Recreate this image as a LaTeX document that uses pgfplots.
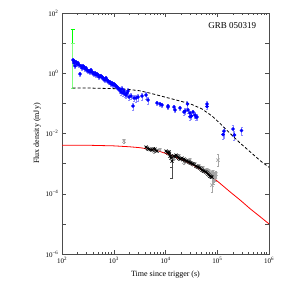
\documentclass[border=0pt]{standalone}
\usepackage{fontspec}
\setmainfont{Liberation Serif}
\usepackage{pgfplots}
\pgfplotsset{compat=1.18}
\usepackage{pgfplotstable}

\pgfplotstableread{
t f e
163.2 2.745 0.15
170.6 2.183 0.15
170.6 2.543 0.15
178.3 1.735 0.15
186.4 2.356 0.15
194.9 2.021 0.15
203.8 2.183 0.15
213.0 1.873 0.15
222.7 0.9406 0.15
232.8 1.735 0.15
243.4 1.488 0.15
254.5 1.735 0.15
266.1 1.607 0.15
278.2 1.379 0.15
290.9 1.488 0.15
304.1 1.277 0.15
317.9 1.183 0.15
332.4 1.183 0.15
347.5 1.096 0.15
363.4 1.277 0.15
380.0 1.096 0.15
397.2 1.015 0.15
415.3 0.9406 0.15
434.2 1.015 0.15
454.0 0.8713 0.15
474.7 0.9406 0.15
496.3 0.8713 0.15
518.8 0.7475 0.15
542.5 0.807 0.15
567.1 0.807 0.15
593.0 0.7475 0.15
620.0 0.6929 0.15
648.2 0.6417 0.15
677.6 0.5943 0.15
708.6 0.6929 0.15
740.8 0.5943 0.15
774.5 0.5506 0.15
809.6 0.5099 0.15
846.6 0.5099 0.15
885.1 0.4378 0.15
925.5 0.4724 0.15
967.2 0.4055 0.15
1011 0.4378 0.15
1057 0.4055 0.15
1105 0.3756 0.15
1156 0.3478 0.15
1208 0.3224 0.15
1263 0.2986 0.15
1321 0.2766 0.2
1381 0.2373 0.2
1443 0.2986 0.2
1510 0.2199 0.2
1578 0.2562 0.2
1650 0.2036 0.2
1725 0.1887 0.2
1803 0.2199 0.2
1886 0.2562 0.2
1971 0.1619 0.2
2154 0.1748 0.2
2355 0.0813 0.25
2462 0.1500 0.2
2692 0.1500 0.25
2942 0.1619 0.25
3516 0.1748 0.25
4201 0.1887 0.25
4590 0.1287 0.25
6850 0.1023 0.15
7830 0.0948 0.15
8560 0.0878 0.15
11180 0.0813 0.15
11180 0.0753 0.15
14600 0.0753 0.15
15260 0.0599 0.15
19060 0.0698 0.15
22780 0.0514 0.2
23820 0.0555 0.2
26610 0.0948 0.25
27210 0.0599 0.2
29740 0.0476 0.2
29740 0.0359 0.2
31790 0.0379 0.2
33990 0.0514 0.2
37150 0.0409 0.2
38850 0.0351 0.2
40620 0.0351 0.2
63390 0.0948 0.2
63390 0.0783 0.2
129200 0.00919 0.3
135000 0.01201 0.4
201600 0.0140 0.4
215400 0.00885 0.3
294200 0.01248 0.3
}\bluedata

\pgfplotstableread{
t f ep em
1578 0.005592 0.0008 0.0007
4391 0.003272 0.0005 0.0004
5995 0.002601 0.0004 0.0003
7830 0.002808 0.0004 0.0003
11690 0.002410 0.0004 0.0003
14600 0.001523 0.0003 0.0002
18240 0.001775 0.0003 0.0002
22780 0.001122 0.0002 0.00015
29740 0.001307 0.0002 0.00015
37150 0.000962 0.00015 0.00012
44390 0.000826 0.00015 0.00012
53050 0.000709 0.00012 0.0001
63390 0.000608 0.0001 0.00008
69270 0.000484 0.0001 0.00008
70000 0.00055 0.0001 0.00008
75720 0.000415 0.0001 0.00008
80000 0.00045 0.0001 0.00008
82770 0.000522 0.0001 0.00008
85000 0.00029 0.0001 0.00008
86530 0.000330 0.0001 0.00008
88000 0.00042 0.0001 0.00008
90460 0.000384 0.0001 0.00008
92000 0.00035 0.0001 0.00008
94580 0.000448 0.0001 0.00008
79160 0.000193 0.000137 0.00008
103400 0.001307 0.00076 0.00048
}\greydata

\pgfplotstableread{
t f
4201 0.003534
4500 0.0032
4799 0.003031
5100 0.0029
5484 0.002808
5800 0.0031
6268 0.003031
6500 0.0027
6850 0.002601
10230 0.002601
10700 0.0024
11180 0.002233
11690 0.002410
11900 0.0021
12220 0.001775
12770 0.001523
13000 0.0018
14600 0.001775
15300 0.0017
15960 0.001916
16500 0.0018
17440 0.001644
18100 0.0015
19060 0.001411
19900 0.00145
20840 0.001523
21800 0.00135
22780 0.001411
23820 0.001307
24900 0.00125
26030 0.001211
27200 0.00118
28460 0.001122
29700 0.00108
31110 0.001039
32500 0.00100
33990 0.000962
35500 0.00092
38850 0.000826
40600 0.00080
42460 0.000765
44400 0.00074
46420 0.000709
48500 0.00066
50740 0.000608
53000 0.00059
55460 0.000563
58000 0.00055
60610 0.000522
63400 0.00049
66270 0.000448
69300 0.00042
72420 0.000384
75700 0.00037
79160 0.000356
}\blackdata

\begin{document}
\begin{tikzpicture}
\path[use as bounding box] (0,0) rectangle (282pt,282pt);
\begin{axis}[
  at={(62pt,28pt)}, anchor=south west,
  scale only axis, width=207pt, height=241pt,
  xmode=log, ymode=log,
  xmin=100, xmax=1e6, ymin=1e-6, ymax=100,
  axis line style={black!70, line width=0.6pt},
  tick style={black!70, line width=0.5pt},
  major tick length=4pt, minor tick length=2pt,
  xtick={100,1000,10000,100000,1000000},
  xticklabels={10\textsuperscript{2},10\textsuperscript{3},10\textsuperscript{4},10\textsuperscript{5},10\textsuperscript{6}},
  ytick={1e-6,1e-5,1e-4,1e-3,1e-2,1e-1,1,10,100},
  yticklabels={10\textsuperscript{−6},,10\textsuperscript{−4},,10\textsuperscript{−2},,10\textsuperscript{0},,10\textsuperscript{2}},
  yminorticks=false,
  tick label style={font=\fontsize{7}{8}\selectfont},
  xlabel={Time since trigger (s)},
  ylabel={Flux density (mJy)},
  label style={font=\fontsize{8}{9}\selectfont},
  ylabel style={yshift=-2pt},
]
% green point
\addplot[only marks, mark=-, mark size=2pt, color=green, line width=0.8pt,
  error bars/.cd, y dir=plus, y explicit,
  error bar style={green, line width=1.3pt},
  error mark options={rotate=90, mark size=2pt, green, line width=0.8pt}]
  coordinates {(161,10) +- (0,19.4)};
\addplot[only marks, mark=-, mark size=2pt, color=green!50, line width=0.8pt,
  error bars/.cd, y dir=minus, y explicit,
  error bar style={green!50, line width=1.3pt},
  error mark options={rotate=90, mark size=2pt, green!50, line width=0.8pt}]
  coordinates {(161,10) +- (0,9.68)};
% optical
\addplot[only marks, mark=*, mark size=1.6pt, color=blue,
  error bars/.cd, y dir=both, y explicit relative,
  error bar style={blue!45, line width=0.4pt},
  error mark options={rotate=90, mark size=1pt, blue!45}]
  table[x=t, y=f, y error=e]{\bluedata};
% optical model
\addplot[black, line width=0.8pt, dash pattern=on 3pt off 2pt] coordinates {
(161.1,0.3236) (316.2,0.3236) (1000,0.3090) (1995,0.2884) (3162,0.2630)
(5012,0.2188) (7943,0.1778) (12590,0.1445) (19950,0.1175) (31620,0.0933)
(50120,0.0661) (79430,0.0380) (112200,0.02188) (177800,0.01) (281800,0.004677)
(446700,0.002344) (707900,0.001175) (1000000,0.000759)};
% X-ray (grey)
\addplot[only marks, mark=x, mark size=2.3pt, color=gray!70, mark options={line width=0.7pt},
  error bars/.cd, y dir=both, y explicit,
  error bar style={gray!70, line width=0.4pt},
  error mark options={rotate=90, mark size=1.2pt, gray!70}]
  table[x=t, y=f, y error plus=ep, y error minus=em]{\greydata};
% X-ray (black)
\addplot[only marks, mark=x, mark size=2.2pt, color=black, mark options={line width=0.6pt}] table[x=t, y=f]{\blackdata};
\addplot[only marks, mark=x, mark size=2.2pt, color=black, mark options={line width=0.6pt},
  error bars/.cd, y dir=both, y explicit,
  error bar style={black!70, line width=0.5pt},
  error mark options={rotate=90, mark size=1.5pt, black!70}]
  coordinates {(13350,0.001211) +- (0,0.000433)};
\addplot[draw=none, mark=none,
  error bars/.cd, y dir=minus, y explicit,
  error bar style={black!70, line width=0.5pt},
  error mark options={rotate=90, mark size=1.5pt, black!70}]
  coordinates {(13350,0.001211) +- (0,0.000881)};
% X-ray model
\addplot[red, line width=0.8pt] coordinates {
(100,0.004074) (316.2,0.004074) (1000,0.003890) (1995,0.003631) (3162,0.003388)
(5012,0.003020) (7943,0.002512) (12590,0.001905) (19950,0.001380) (29510,0.001023)
(44670,0.0006918) (72440,0.0004169) (112200,0.0002239) (177800,0.0001148)
(281800,0.00006026) (426600,0.00003236) (660700,0.00001778) (1000000,0.00001)};
\node[anchor=north east, font=\fontsize{9}{10}\selectfont] at (rel axis cs:0.955,0.975) {GRB 050319};
\end{axis}
\end{tikzpicture}
\end{document}
